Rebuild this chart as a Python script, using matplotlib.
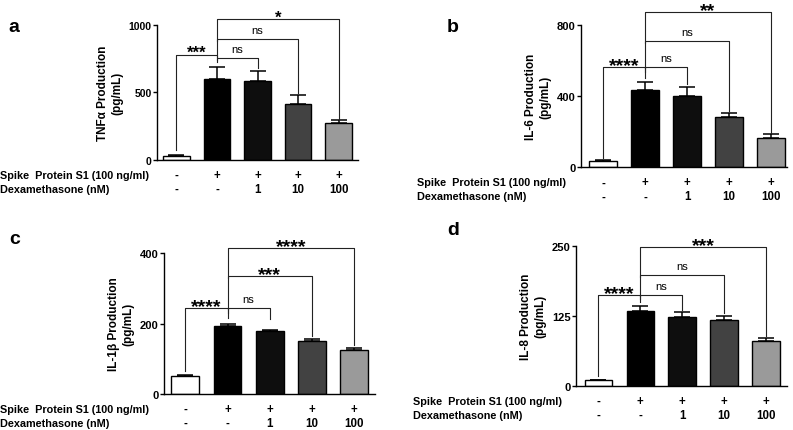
import matplotlib.pyplot as plt
from matplotlib.transforms import offset_copy

plt.rcParams['font.family'] = ['Liberation Sans', 'DejaVu Sans']

## Data
spike = ['-', '+', '+', '+', '+']
dexa = ['-', '-', '1', '10', '100']
colors = ['white', 'black', '#0e0e0e', '#424242', '#9a9a9a']

tnf = [27, 600, 583, 415, 272]
tnf_err = [12, 87, 78, 69, 27]
il6 = [34, 438, 402, 284, 167]
il6_err = [7, 45, 52, 24, 23]
il1b = [50, 192, 178, 149, 125]
il1b_err = [4, 6, 3, 6, 5]
il8 = [10, 133, 123, 117, 79]
il8_err = [1, 10, 8, 8, 6]

# brackets: (left, right, height, left leg bottom, right leg bottom, label)
tnf_sig = [(0, 1, 778, 74, 741, '***'), (1, 2, 753, 723, 681, 'ns'),
           (1, 3, 896, 760, 494, 'ns'), (1, 4, 1042, 880, 299, '*')]
il6_sig = [(0, 1, 563, 50, 505, '****'), (1, 2, 563, 535, 470, 'ns'),
           (1, 3, 710, 560, 318, 'ns'), (1, 4, 873, 700, 195, '**')]
il1b_sig = [(0, 1, 244, 66, 217, '****'), (1, 2, 244, 230, 213, 'ns'),
            (1, 3, 336, 240, 165, '***'), (1, 4, 414, 330, 140, '****')]
il8_sig = [(0, 1, 162, 18, 150, '****'), (1, 2, 162, 155, 135, 'ns'),
           (1, 3, 198, 160, 129, 'ns'), (1, 4, 247, 195, 89, '***')]

W, H = 793, 431
# letter, ylabel, values, errors, brackets, ymax, ticks, axes box, xlim,
# row label x (px), letter pos (px), tick size, star size
panels = [
    ('a', 'TNF\u03b1 Production\n(pg/mL)', tnf, tnf_err, tnf_sig, 1000, [0, 500, 1000],
     [0.198, 0.6265, 0.2535, 0.3132], (-0.48, 4.48), 0, (8, 28), 7.5, 12),
    ('b', 'IL-6 Production\n(pg/mL)', il6, il6_err, il6_sig, 800, [0, 400, 800],
     [0.733, 0.6095, 0.2594, 0.3295], (-0.52, 4.38), 417, (447, 27), 8, 14),
    ('c', 'IL-1\u03b2 Production\n(pg/mL)', il1b, il1b_err, il1b_sig, 400, [0, 200, 400],
     [0.2072, 0.0835, 0.2657, 0.3271], (-0.50, 4.50), 0, (9, 240), 8, 14),
    ('d', 'IL-8 Production\n(pg/mL)', il8, il8_err, il8_sig, 250, [0, 125, 250],
     [0.7267, 0.1028, 0.2657, 0.3248], (-0.53, 4.50), 413, (447, 231), 8, 14),
]

fig = plt.figure(figsize=(7.93, 4.31), dpi=100)

for (letter, ylabel, vals, errs, sigs, ymax, yticks, pos, xlim, rowx, lpos,
     tsize, starsize) in panels:
    ax = fig.add_axes(pos)
    x = range(len(vals))
    ax.bar(x, vals, width=0.66, color=colors, edgecolor='black', linewidth=1)
    ax.errorbar(x, vals, yerr=[[0] * len(errs), errs], fmt='none',
                ecolor='black', elinewidth=1.1, capsize=6, capthick=1.1)
    ax.set_xlim(*xlim)
    ax.set_ylim(0, ymax)
    ax.set_yticks(yticks)
    ax.set_yticklabels([str(t) for t in yticks], fontweight='bold', fontsize=tsize)
    ax.tick_params(axis='y', length=3, width=1, pad=1)
    ax.set_xticks([])
    for s in ['top', 'right']:
        ax.spines[s].set_visible(False)
    ax.spines['left'].set_linewidth(1)
    ax.spines['bottom'].set_linewidth(1)
    ax.set_ylabel(ylabel, fontweight='bold', fontsize=8.5, labelpad=4, linespacing=1.25)

    # significance brackets
    for l, r, h, lb, rb, lab in sigs:
        ax.plot([l, l, r, r], [lb, h, h, rb], color='#222222', lw=0.8,
                clip_on=False)
        if lab == 'ns':
            tr = offset_copy(ax.transData, fig=fig, y=6, units='dots')
            ax.text((l + r) / 2, h, lab, ha='center', va='baseline',
                    fontsize=8, transform=tr)
        else:
            tr = offset_copy(ax.transData, fig=fig, y=-2 - (starsize - 12) * 0.5,
                             units='dots')
            ax.text((l + r) / 2, h, lab, ha='center', va='baseline',
                    fontsize=starsize, fontweight='bold', transform=tr)

    # treatment rows
    y0 = pos[1] * H
    for row, labels, name in [(15, spike, 'Spike  Protein S1 (100 ng/ml)'),
                              (29, dexa, 'Dexamethasone (nM)')]:
        yy = (y0 - row) / H
        for i in x:
            xf = fig.transFigure.inverted().transform(ax.transData.transform((i, 0)))[0]
            fig.text(xf, yy, labels[i], ha='center', va='center',
                     fontsize=8.3, fontweight='bold')
        fig.text(rowx / W, yy, name, ha='left', va='center', fontsize=7.8,
                 fontweight='bold')

    fig.text(lpos[0] / W, 1 - lpos[1] / H, letter, ha='left', va='center',
             fontsize=14, fontweight='bold')

fig.savefig('out.png', dpi=100)
